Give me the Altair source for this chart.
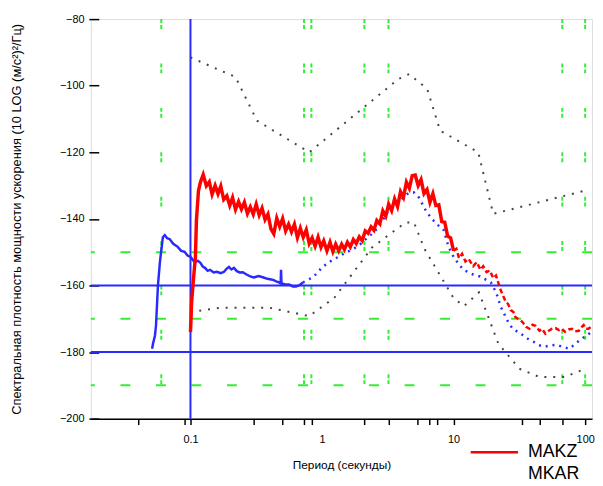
import altair as alt
import pandas as pd

# ---------------- data ----------------
# MAKZ (red) – period (s), PSD (dB)
makz_head_p = [0.100, 0.101, 0.102, 0.107, 0.109, 0.111, 0.115, 0.119, 0.125, 0.132, 0.139, 0.146, 0.154, 0.162,
               0.170, 0.179, 0.189, 0.199, 0.209, 0.220, 0.232, 0.244, 0.257, 0.271, 0.285, 0.300, 0.316,
               0.333, 0.350, 0.369, 0.388, 0.409, 0.430, 0.453, 0.477, 0.502, 0.529, 0.557, 0.586, 0.617,
               0.650, 0.684, 0.720, 0.759, 0.799, 0.841, 0.886, 0.933, 0.982, 1.03, 1.09, 1.15, 1.21, 1.27,
               1.34, 1.41, 1.48, 1.56, 1.64, 1.73, 1.82, 1.92, 2.02, 2.13, 2.24, 2.36, 2.48, 2.61, 2.75,
               2.90, 3.05, 3.21, 3.38, 3.56, 3.75, 3.95, 4.16, 4.38, 4.61, 4.85, 5.11, 5.38, 5.66, 5.96,
               6.28, 6.61, 6.96, 7.33, 7.72, 8.13, 8.56, 9.01, 9.49, 10.0]
makz_head_db = [-174.0, -170.0, -165.0, -155.0, -151.7, -140.4, -131.6, -129.0, -126.7, -130.1, -128.9, -132.6,
                -130.0, -132.5, -130.2, -134.2, -133.1, -136.0, -133.6, -137.2, -134.8, -137.1, -135.0, -138.4,
                -136.4, -138.6, -135.6, -138.9, -136.8, -140.2, -138.6, -143.0, -144.5, -139.8, -142.3, -139.9,
                -143.6, -141.6, -143.9, -141.6, -145.6, -142.8, -145.5, -143.3, -147.4, -145.7, -148.2, -145.5,
                -148.5, -146.6, -149.6, -147.0, -149.8, -147.6, -149.6, -147.6, -149.2, -147.0, -148.4, -146.2,
                -147.4, -145.4, -146.5, -143.6, -144.3, -142.4, -143.4, -140.5, -141.5, -137.6, -139.2, -135.6,
                -137.5, -134.0, -136.3, -131.8, -133.5, -129.0, -130.8, -127.0, -126.8, -130.0, -128.2, -132.4,
                -131.2, -135.0, -132.4, -136.0, -135.8, -140.8, -141.0, -145.2, -145.7, -149.6]
makz_tail_p = [10.0, 10.5, 11.0, 11.6, 12.3, 13.0, 14.1, 15.0, 16.0, 16.8, 17.8, 18.9, 20.0, 21.0, 22.0, 22.5,
               23.7, 25.0, 26.0, 27.2, 28.5, 29.6, 31.5, 33.4, 35.5, 37.7, 39.8, 41.9, 44.9, 47.0, 49.8, 53.0,
               56.1, 59.5, 63.3, 66.5, 70.2, 75.0, 79.2, 84.0, 89.4, 93.5, 97.4, 101.0, 106.0, 110.0]
makz_tail_db = [-149.6, -149.0, -151.8, -150.5, -152.8, -152.0, -154.2, -153.0, -155.3, -154.2, -156.0, -155.5,
                -157.8, -157.0, -159.5, -160.8, -163.0, -165.0, -165.6, -167.4, -168.0, -169.6, -170.2, -171.0,
                -172.4, -173.0, -171.8, -172.1, -173.6, -173.0, -174.5, -173.6, -173.0, -172.8, -173.4, -173.0,
                -173.9, -173.2, -173.0, -173.8, -173.6, -172.6, -171.9, -173.0, -173.0, -172.5]

# MKAR (blue)
mkar_left_p = [0.0511, 0.0519, 0.0537, 0.0547, 0.0566, 0.0586, 0.0617, 0.0638, 0.0665, 0.0696, 0.0740, 0.0800,
               0.0850, 0.0902, 0.0950, 0.100, 0.105, 0.109, 0.114, 0.119, 0.124, 0.129, 0.135, 0.141, 0.150,
               0.159, 0.170, 0.180, 0.188, 0.196, 0.205, 0.214, 0.225, 0.237, 0.250, 0.267, 0.285, 0.302,
               0.330, 0.359, 0.385, 0.411, 0.430, 0.449, 0.470, 0.485, 0.488, 0.492, 0.520, 0.561, 0.600,
               0.633, 0.670, 0.716]
mkar_left_db = [-179.0, -177.5, -175.1, -172.1, -160.0, -152.9, -145.5, -144.9, -145.8, -146.1, -147.5, -148.4,
                -149.6, -149.9, -151.0, -151.4, -152.5, -152.9, -152.6, -153.2, -154.3, -154.7, -155.6, -155.3,
                -156.1, -155.9, -156.3, -155.9, -155.0, -154.4, -155.2, -154.7, -155.7, -156.1, -156.0, -156.7,
                -157.3, -157.6, -157.2, -157.6, -158.0, -158.2, -158.4, -158.8, -159.1, -159.4, -155.3, -159.4,
                -159.6, -159.7, -160.3, -160.3, -160.0, -159.1]
mkar_right_p = [0.716, 0.78, 0.849, 0.93, 1.01, 1.10, 1.20, 1.35, 1.50, 1.64, 1.78, 1.95, 2.11, 2.38, 2.65,
                2.88, 3.13, 3.42, 3.74, 4.22, 4.60, 5.01, 5.45, 6.15, 6.71, 7.46, 8.43, 9.15, 10.0, 10.9, 11.9,
                14.1, 15.9, 19.2, 20.5, 21.6, 22.7, 24.3, 26.0, 28.1, 32.5, 36.6, 41.0, 45.8, 49.0, 55.0, 61.0,
                68.0, 75.4, 79.2, 86.0, 94.0, 103.0, 112.0]
mkar_right_db = [-159.1, -158.3, -157.6, -156.0, -154.4, -153.4, -152.3, -151.3, -150.2, -149.5, -148.7, -147.6,
                 -146.4, -144.6, -142.8, -140.5, -138.1, -136.7, -135.4, -133.3, -132.1, -132.1, -133.6, -137.5,
                 -139.6, -141.6, -143.4, -148.4, -151.4, -153.5, -155.3, -156.7, -157.3, -159.1, -161.2, -163.3,
                 -166.2, -168.6, -171.0, -173.0, -174.5, -176.0, -177.0, -178.1, -178.4, -178.0, -177.8, -178.5,
                 -179.0, -178.4, -177.2, -176.0, -175.0, -173.9]

# Peterson noise models (dotted)
nhnm_p = [0.1, 0.22, 0.32, 0.8, 3.8, 4.6, 6.3, 7.9, 15.4, 20.0, 100.0]
nhnm_db = [-91.5, -97.4, -110.5, -120.0, -98.0, -96.5, -101.0, -113.5, -120.0, -138.5, -131.5]
nlnm_p = [0.1, 0.17, 0.4, 0.8, 1.24, 2.4, 4.3, 5.0, 6.0, 10.0, 12.0, 15.6, 21.9, 31.6, 45.0, 70.0, 100.0]
nlnm_db = [-168.0, -166.7, -166.7, -169.2, -163.7, -148.6, -141.1, -141.1, -149.0, -163.8, -166.2, -162.1,
           -177.5, -185.0, -187.5, -187.5, -185.0]

# reference lines
green_periods = [0.06, 0.73, 0.83, 2.1, 3.2, 67.0, 100.0]
green_levels = [-150, -170, -190]
blue_levels = [-160, -180]
blue_periods = [0.1]

stations = ["MAKZ", "MKAR"]
x_ticks = [0.04, 0.09, 0.1, 0.3, 0.5, 0.73, 0.83, 1, 2.1, 3.2, 5.3, 6.5, 7.5, 10, 33, 45, 67, 100]
y_ticks = list(range(-200, -79, 10))

x_title = "Период (секунды)"
y_title = "Спектральная плотность мощности ускорения (10 LOG (м/с²)²/Гц)"

# ---------------- chart ----------------
FONT = "Liberation Sans"
xs = alt.Scale(type="log", domain=[0.0175, 112.8], nice=False)
ys = alt.Scale(domain=[-200, -80], nice=False)

x_axis = alt.Axis(
    values=x_ticks, grid=False, title=x_title,
    labelExpr="datum.value == 0.1 ? '0.1' : datum.value == 1 ? '1' : datum.value == 10 ? '10' : datum.value == 100 ? '100' : ''",
    labelOverlap=False, labelFlush=False, tickSize=6, tickWidth=1.5, tickColor="black",
    tickOpacity={"condition": {"test": "datum.value == 1", "value": 0}, "value": 1},
    domainColor="black", domainWidth=1.5, labelPadding=9, labelFontSize=11, labelFont=FONT,
    titleFont=FONT, titleFontSize=12, titleFontWeight="normal", titlePadding=16, labelColor="black",
)
y_axis = alt.Axis(
    values=y_ticks, grid=False, title=y_title, domain=False, offset=-8,
    labelExpr="datum.value % 20 == 0 ? datum.label : ''",
    tickSize={"condition": {"test": "datum.value % 20 == 0", "value": 10}, "value": 3},
    tickWidth=1.5, tickColor="black", labelPadding=5, labelFontSize=11, labelFont=FONT,
    titleFont=FONT, titleFontSize=13, titleFontWeight="normal", titlePadding=37, labelColor="black",
)

df_gv = pd.DataFrame({"p": green_periods})
df_gh = pd.DataFrame({"db": green_levels})
df_bv = pd.DataFrame({"p": blue_periods})
df_bh = pd.DataFrame({"db": blue_levels})

gv = alt.Chart(df_gv).mark_rule(color="#33ee33", strokeWidth=2, strokeDash=[4, 2, 4, 35]).encode(
    x=alt.X("p:Q", scale=xs, axis=x_axis))
gh = alt.Chart(df_gh).mark_rule(color="#33ee33", strokeWidth=2, strokeDash=[10, 26]).encode(
    y=alt.Y("db:Q", scale=ys, axis=y_axis))
bv = alt.Chart(df_bv).mark_rule(color="#2a2aff", strokeWidth=2).encode(x=alt.X("p:Q", scale=xs))
bh = alt.Chart(df_bh).mark_rule(color="#2a2aff", strokeWidth=2).encode(y=alt.Y("db:Q", scale=ys))

def line_df(p, d):
    return pd.DataFrame({"p": p, "db": d})

nh = alt.Chart(line_df(nhnm_p, nhnm_db)).mark_line(color="#444444", strokeWidth=2, strokeDash=[2, 7], clip=True).encode(
    x=alt.X("p:Q", scale=xs), y=alt.Y("db:Q", scale=ys))
nl = alt.Chart(line_df(nlnm_p, nlnm_db)).mark_line(color="#444444", strokeWidth=2, strokeDash=[2, 7], clip=True).encode(
    x=alt.X("p:Q", scale=xs), y=alt.Y("db:Q", scale=ys))

bl = alt.Chart(line_df(mkar_left_p, mkar_left_db)).mark_line(color="#2a2aff", strokeWidth=2.5, clip=True).encode(
    x=alt.X("p:Q", scale=xs), y=alt.Y("db:Q", scale=ys))
br = alt.Chart(line_df(mkar_right_p, mkar_right_db)).mark_line(color="#2a2aff", strokeWidth=2.5, strokeDash=[2, 5], clip=True).encode(
    x=alt.X("p:Q", scale=xs), y=alt.Y("db:Q", scale=ys))

df_rh = line_df(makz_head_p, makz_head_db)
df_rh["station"] = stations[0]
rh = alt.Chart(df_rh).mark_line(strokeWidth=3.5, clip=True).encode(
    x=alt.X("p:Q", scale=xs), y=alt.Y("db:Q", scale=ys),
    color=alt.Color("station:N", scale=alt.Scale(domain=stations, range=["#ff0000", "#ffffff"]),
                    legend=alt.Legend(orient="none", legendX=382, legendY=430, title=None,
                                      symbolType="M-1,0H7", symbolSize=144, symbolStrokeWidth=2.5,
                                      labelFontSize=18, labelFont=FONT, labelOffset=43, rowPadding=4,
                                      padding=0, labelColor="black")))
rt = alt.Chart(line_df(makz_tail_p, makz_tail_db)).mark_line(color="#ff0000", strokeWidth=2.5, strokeDash=[5, 3], clip=True).encode(
    x=alt.X("p:Q", scale=xs), y=alt.Y("db:Q", scale=ys))

chart = alt.layer(gv, gh, bv, bh, nh, nl, bl, br, rh, rt).properties(
    width=508, height=405,
    autosize=alt.AutoSizeParams(type="none"),
    padding={"left": 84, "top": 8, "right": 3, "bottom": 64},
).configure_view(stroke=None).configure(background="white")

chart.save("out.html", embed_options={"renderer": "svg", "actions": False})
